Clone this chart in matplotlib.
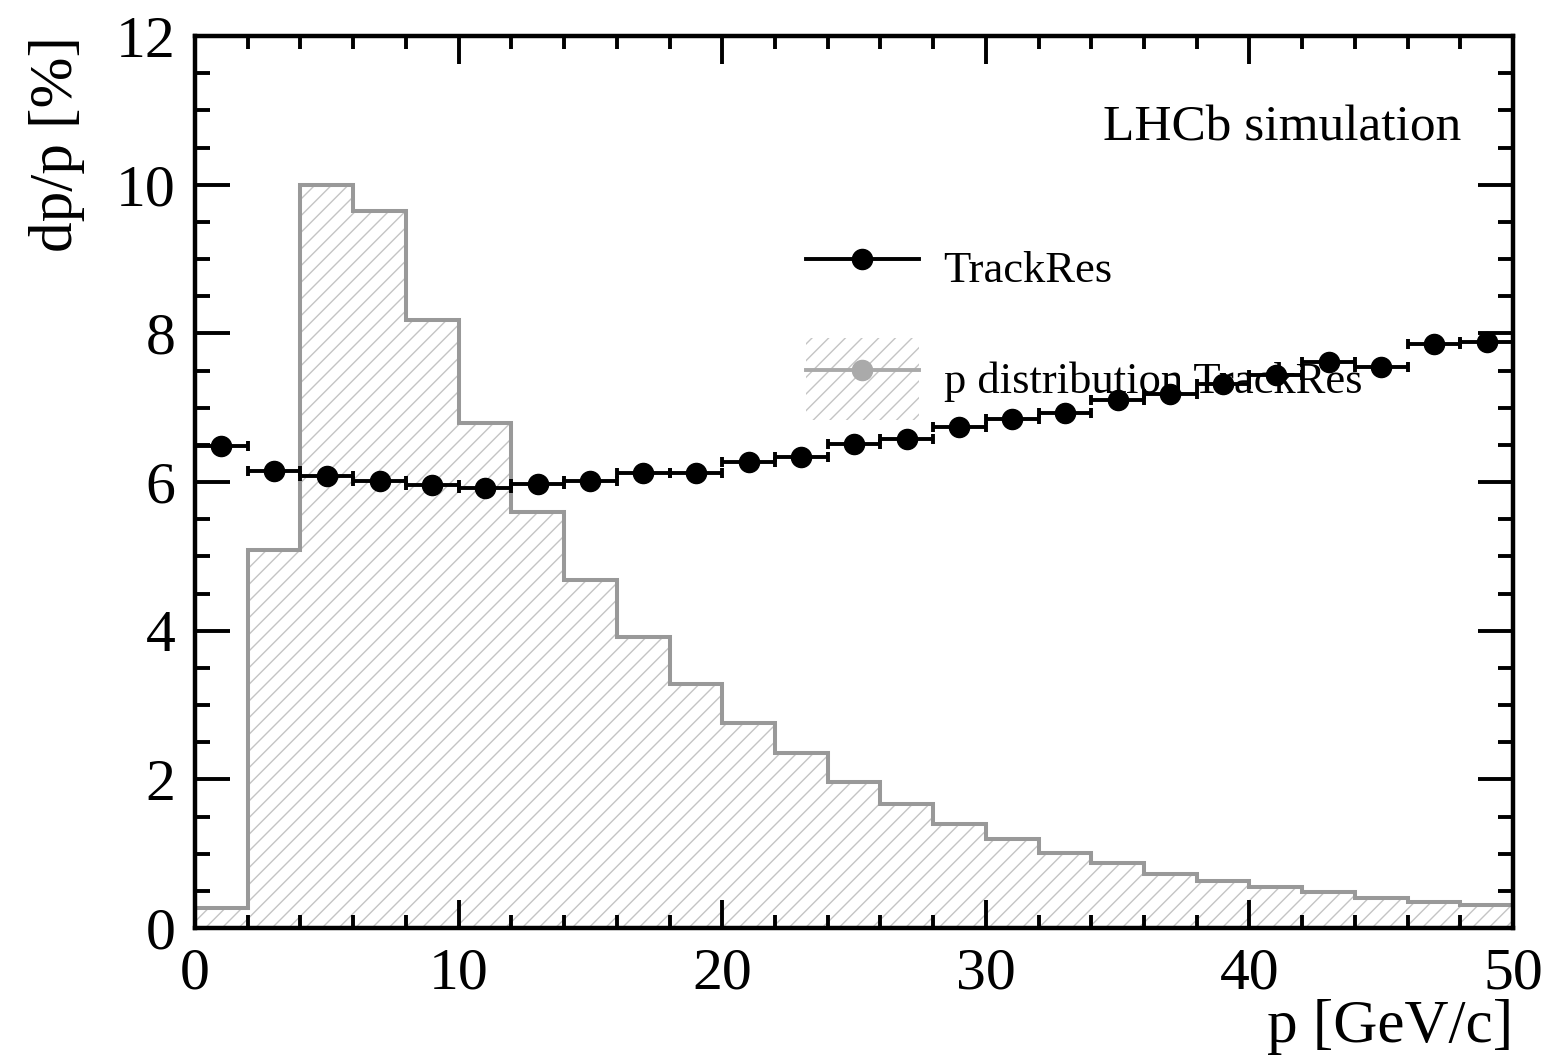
import matplotlib
matplotlib.use("Agg")
import matplotlib.pyplot as plt
import numpy as np
from matplotlib.patches import Patch, Rectangle
from matplotlib.lines import Line2D
from matplotlib.legend_handler import HandlerTuple, HandlerPatch
from matplotlib.ticker import MultipleLocator

plt.rcParams['font.family'] = ['Liberation Serif', 'DejaVu Serif']
plt.rcParams['hatch.linewidth'] = 1.0

# momentum distribution (histogram, 2 GeV bins)
p_edges = np.arange(0, 52, 2)
p_dist = [0.27, 5.08, 10.0, 9.65, 8.18, 6.80, 5.60, 4.68, 3.92, 3.28,
          2.76, 2.35, 1.97, 1.67, 1.40, 1.20, 1.01, 0.87, 0.72, 0.63,
          0.55, 0.48, 0.41, 0.35, 0.31]

# resolution dp/p [%] per bin
p_centers = np.arange(1, 50, 2)
res = [6.48, 6.15, 6.08, 6.01, 5.96, 5.92, 5.97, 6.01, 6.12, 6.12,
       6.27, 6.34, 6.51, 6.58, 6.74, 6.85, 6.93, 7.10, 7.18, 7.32,
       7.44, 7.62, 7.55, 7.86, 7.88]

fig = plt.figure(figsize=(15.43, 10.59), dpi=100)
ax = fig.add_axes([0.1264, 0.1237, 0.9806 - 0.1264, 0.966 - 0.1237])

grey = '#999999'
hatch_col = '#c4c4c4'
ax.stairs(p_dist, p_edges, fill=True, facecolor='none', edgecolor=hatch_col,
          linewidth=0, hatch='//')
ax.stairs(p_dist, p_edges, baseline=0, color=grey, linewidth=2.9)

ax.errorbar(p_centers, res, xerr=1, fmt='o', color='k', ms=14.5,
            elinewidth=2.8, capsize=3.5, capthick=2.8)

ax.set_xlim(0, 50)
ax.set_ylim(0, 12)
ax.xaxis.set_major_locator(MultipleLocator(10))
ax.xaxis.set_minor_locator(MultipleLocator(2))
ax.yaxis.set_major_locator(MultipleLocator(2))
ax.yaxis.set_minor_locator(MultipleLocator(0.5))
ax.tick_params(which='both', direction='in', top=True, right=True, width=2.8)
ax.tick_params(which='major', labelsize=43, pad=14)
ax.tick_params(axis='x', which='major', length=20)
ax.tick_params(axis='x', which='minor', length=9.5)
ax.tick_params(axis='y', which='major', length=25)
ax.tick_params(axis='y', which='minor', length=10.5)
for s in ax.spines.values():
    s.set_linewidth(3.2)

ax.set_xlabel('p [GeV/c]', fontsize=44, loc='right', labelpad=-2)
ax.set_ylabel('dp/p [%]', fontsize=44, loc='top', labelpad=22)

ax.text(0.961, 0.897, 'LHCb simulation', transform=ax.transAxes,
        ha='right', va='center', fontsize=37)


def tall_patch(legend, orig_handle, xdescent, ydescent, width, height, fontsize):
    # hatch box taller than the text row, like the ROOT legend
    h = height * 1.3
    return Rectangle((-xdescent, -ydescent + height / 2 - h / 2), width, h)


h1 = Line2D([], [], color='k', marker='o', ms=14.5, lw=2.8)
h2 = (Patch(facecolor='none', edgecolor=hatch_col, linewidth=0, hatch='//'),
      Line2D([], [], color='#aaaaaa', marker='o', ms=14.5, lw=2.8))
ax.legend([h1, h2], ['TrackRes', 'p distribution TrackRes'],
          handler_map={tuple: HandlerTuple(ndivide=1),
                       Patch: HandlerPatch(patch_func=tall_patch)},
          loc='upper left', bbox_to_anchor=(0.433, 0.82), frameon=False,
          fontsize=32, handlelength=2.55, handleheight=1.8,
          labelspacing=1.08, handletextpad=0.55, borderpad=0.4)

fig.savefig('out.png', dpi=100)
